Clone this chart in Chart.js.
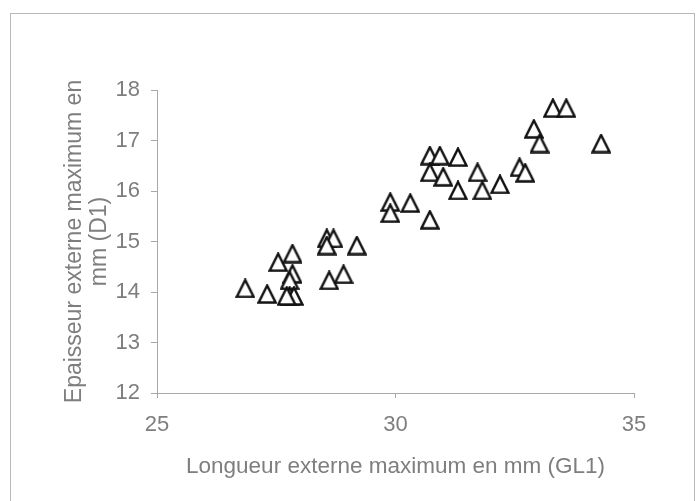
<!DOCTYPE html>
<html>
<head>
<meta charset="utf-8">
<script src="https://cdn.jsdelivr.net/npm/chart.js@4"></script>
<style>
  body { margin: 0; background: #fff; }
  #wrap { position: relative; width: 698px; height: 501px; overflow: hidden; }
  #frame { position: absolute; left: 10px; top: 13px; width: 683px; height: 520px; border: 1px solid #b8b8b8; }
  canvas { position: absolute; left: 0; top: 0; }
</style>
</head>
<body>
<div id="wrap">
  <div id="frame"></div>
  <canvas id="scatterChart" width="698" height="501"></canvas>
</div>
<script>
// --- Données ---
const longueurGL1 = [
  33.30, 33.58, 32.90, 33.02, 34.31, 32.60, 32.72,
  30.72, 30.93, 31.31, 30.72, 31.00, 31.31, 31.72, 31.82, 32.19,
  29.89, 29.89, 30.31, 30.72,
  26.85, 27.31, 27.54, 27.84, 27.84, 27.78, 27.78, 27.87, 27.72,
  28.56, 28.70, 28.56, 29.19, 28.61, 28.91
];
const epaisseurD1 = [
  17.64, 17.64, 17.23, 16.94, 16.94, 16.47, 16.36,
  16.70, 16.70, 16.67, 16.37, 16.28, 16.01, 16.37, 16.01, 16.13,
  15.78, 15.56, 15.76, 15.43,
  14.07, 13.96, 14.59, 14.76, 14.36, 14.23, 13.92, 13.92, 13.92,
  15.06, 15.06, 14.92, 14.92, 14.23, 14.35
];
const xRange = [25, 35];
const yRange = [12, 18];
const xTitle = 'Longueur externe maximum en mm (GL1)';
const yTitle = ['Epaisseur externe maximum en', 'mm (D1)'];

// --- Marqueur triangle (contour noir, fond blanc) ---
const marker = document.createElement('canvas');
marker.width = 20;
marker.height = 20;
const m = marker.getContext('2d');
m.beginPath();
m.moveTo(10, 1.5);
m.lineTo(18.5, 18.5);
m.lineTo(1.5, 18.5);
m.closePath();
m.fillStyle = '#fff';
m.fill();
m.lineWidth = 2.4;
m.lineJoin = 'miter';
m.strokeStyle = '#111';
m.stroke();

const points = longueurGL1.map((x, i) => ({ x: x, y: epaisseurD1[i] }));

const textColor = '#7e7e7e';
const axisColor = '#a8a8a8';
const family = 'Liberation Sans, Arial, sans-serif';
const tickFont = { family: family, size: 22 };
const titleFont = { family: family, size: 22.5 };

const ctx = document.getElementById('scatterChart').getContext('2d');
new Chart(ctx, {
  type: 'scatter',
  data: {
    datasets: [{
      data: points,
      pointStyle: marker,
      pointRadius: 10,
      pointHoverRadius: 10
    }]
  },
  options: {
    responsive: false,
    animation: false,
    layout: { padding: { left: 10, right: 64, top: 90, bottom: 0 } },
    plugins: { legend: { display: false }, tooltip: { enabled: false } },
    scales: {
      x: {
        type: 'linear',
        min: xRange[0],
        max: xRange[1],
        afterFit: (scale) => { scale.height = 108; },
        ticks: { stepSize: 5, color: textColor, font: tickFont, padding: 14, maxRotation: 0 },
        grid: { drawOnChartArea: false, drawTicks: true, tickLength: 5, color: axisColor },
        border: { display: true, color: axisColor },
        title: { display: true, text: xTitle, color: textColor, font: titleFont, padding: { top: 0, bottom: 21 } }
      },
      y: {
        min: yRange[0],
        max: yRange[1],
        afterFit: (scale) => { scale.width = 147; },
        ticks: { stepSize: 1, color: textColor, font: tickFont, padding: 11 },
        grid: { drawOnChartArea: false, drawTicks: true, tickLength: 6, color: axisColor },
        border: { display: true, color: axisColor },
        title: { display: true, text: yTitle, color: textColor, font: { family: family, size: 23, lineHeight: 1.1 }, padding: { top: 52, bottom: 0 } }
      }
    }
  }
});
</script>
</body>
</html>
